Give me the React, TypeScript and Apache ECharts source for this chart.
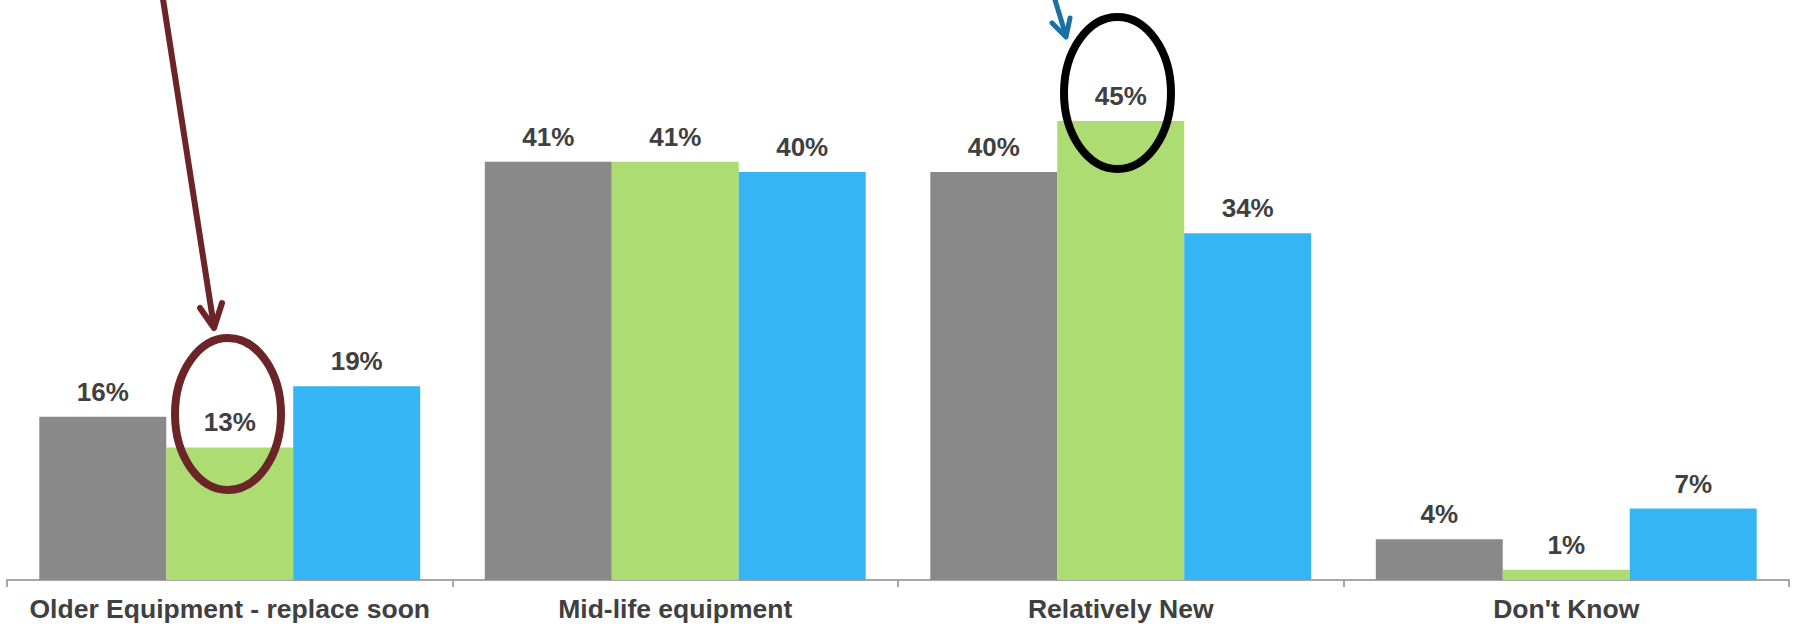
import React, { useEffect, useRef } from "react";
import * as echarts from "echarts";

// Equipment age by respondent group (share of respondents, %)
const categories = [
  "Older Equipment - replace soon",
  "Mid-life equipment",
  "Relatively New",
  "Don't Know",
];
const seriesGray = [16, 41, 40, 4];
const seriesGreen = [13, 41, 45, 1];
const seriesBlue = [19, 40, 34, 7];

const FONT = "Arial, 'Liberation Sans', sans-serif";
const TEXT_COLOR = "#404040";

export default function App() {
  const ref = useRef<HTMLDivElement>(null);

  useEffect(() => {
    if (!ref.current) return;
    const chart = echarts.init(ref.current, undefined, { renderer: "svg" });

    const label = {
      show: true,
      position: "top" as const,
      distance: 12,
      formatter: "{c}%",
      color: TEXT_COLOR,
      fontSize: 26,
      fontWeight: "bold" as const,
      fontFamily: FONT,
    };

    const makeSeries = (name: string, data: number[], color: string) => ({
      name,
      type: "bar" as const,
      data,
      barGap: "0%",
      barCategoryGap: "14.5%",
      itemStyle: { color },
      label,
    });

    chart.setOption({
      animation: false,
      backgroundColor: "#ffffff",
      grid: { left: 7, right: 7, top: 70, bottom: 47, containLabel: false },
      xAxis: {
        type: "category",
        data: categories,
        axisLine: { lineStyle: { color: "#a6a6a6", width: 2 } },
        axisTick: { show: true, length: 7, lineStyle: { color: "#a6a6a6", width: 2 } },
        axisLabel: {
          color: TEXT_COLOR,
          fontSize: 26.5,
          fontWeight: "bold",
          fontFamily: FONT,
          margin: 15,
          interval: 0,
        },
      },
      yAxis: {
        type: "value",
        min: 0,
        max: 50,
        show: false,
        splitLine: { show: false },
      },
      series: [
        makeSeries("Group A", seriesGray, "#898989"),
        makeSeries("Group B", seriesGreen, "#acdc72"),
        makeSeries("Group C", seriesBlue, "#36b5f5"),
      ],
      graphic: [
        // maroon callout on the older-equipment green bar
        {
          type: "line",
          shape: { x1: 160, y1: -20, x2: 214, y2: 327 },
          style: { stroke: "#6b2427", lineWidth: 6 },
          z: 100,
        },
        {
          type: "polyline",
          shape: { points: [[200, 308], [214, 328], [222, 303]] },
          style: { stroke: "#6b2427", lineWidth: 6, fill: "none", lineCap: "round", lineJoin: "round" },
          z: 100,
        },
        {
          type: "ellipse",
          shape: { cx: 228, cy: 414, rx: 53, ry: 76 },
          style: { stroke: "#6b2427", lineWidth: 8, fill: "none" },
          z: 100,
        },
        // blue callout on the relatively-new green bar
        {
          type: "line",
          shape: { x1: 1052, y1: -10, x2: 1066, y2: 36 },
          style: { stroke: "#1a70a4", lineWidth: 5 },
          z: 100,
        },
        {
          type: "polyline",
          shape: { points: [[1052, 23], [1066, 37], [1070, 18]] },
          style: { stroke: "#1a70a4", lineWidth: 5, fill: "none", lineCap: "round", lineJoin: "round" },
          z: 100,
        },
        {
          type: "ellipse",
          shape: { cx: 1117.5, cy: 93, rx: 53.5, ry: 76 },
          style: { stroke: "#000000", lineWidth: 8, fill: "none" },
          z: 100,
        },
      ],
    });

    return () => chart.dispose();
  }, []);

  return (
    <div
      ref={ref}
      style={{ position: "fixed", left: 0, top: 0, width: 1796, height: 627, background: "#fff" }}
    />
  );
}
